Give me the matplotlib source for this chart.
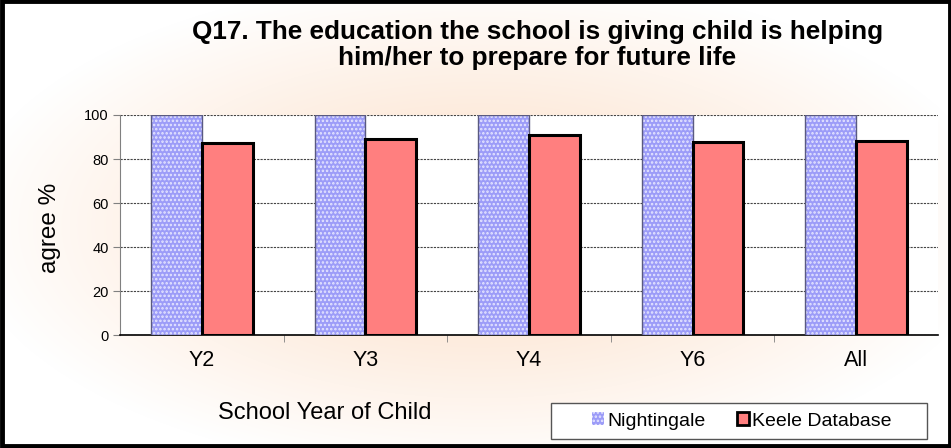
import numpy as np
import matplotlib
matplotlib.use("Agg")
import matplotlib.pyplot as plt
from matplotlib.patches import Rectangle, Patch

categories = ["Y2", "Y3", "Y4", "Y6", "All"]
nightingale = [100, 100, 100, 100, 100]
keele = [87.2, 89.3, 90.8, 87.8, 88.3]
yticks = [0, 20, 40, 60, 80, 100]
title = "Q17. The education the school is giving child is helping\nhim/her to prepare for future life"

plt.rcParams['font.family'] = ['Liberation Sans', 'DejaVu Sans']
plt.rcParams['hatch.linewidth'] = 1.2

W, H = 951, 448
fig = plt.figure(figsize=(W / 100, H / 100), dpi=100)

# background gradient
bg = fig.add_axes([0, 0, 1, 1], zorder=-10)
yy, xx = np.mgrid[0:H, 0:W]
cx, cy = 480, 225
d = np.sqrt(((xx - cx) / 520.0) ** 2 + ((yy - cy) / 250.0) ** 2)
t = np.clip(d, 0, 1) ** 1.1
peach = np.array([252, 222, 198]) / 255.0
white = np.array([1.0, 1.0, 1.0])
img = peach[None, None, :] * (1 - t[..., None]) + white[None, None, :] * t[..., None]
bg.imshow(img, extent=[0, W, H, 0], aspect='auto')
bg.set_xlim(0, W)
bg.set_ylim(H, 0)
bg.axis('off')
bg.add_patch(Rectangle((1.5, 1.5), W - 3, H - 3, fill=False, edgecolor='black', linewidth=3.5))
# legend frame
bg.add_patch(Rectangle((551, 403), 376, 36, facecolor='white', edgecolor='#555555', linewidth=1.0))

ax = fig.add_axes([120 / W, (H - 335) / H, 818 / W, 220 / H])
ax.set_facecolor('white')
x = np.arange(len(categories))
bw = 0.31
ax.bar(x - bw / 2, nightingale, bw, color='#9c9cf8', edgecolor='#e6e6ff', hatch='....', linewidth=0, zorder=3)
ax.bar(x - bw / 2, nightingale, bw, fill=False, edgecolor='#5a5a80', linewidth=1.0, zorder=4)
ax.bar(x + bw / 2, keele, bw, color='#ff7f7f', edgecolor='black', linewidth=2.2, zorder=5)

ax.set_xlim(-0.5, len(categories) - 0.5)
ax.set_ylim(0, 100)
ax.set_yticks(yticks)
ax.set_yticklabels([str(v) for v in yticks], fontsize=10.5)
ax.set_xticks(x)
ax.set_xticklabels(categories, fontsize=15.5)
ax.tick_params(axis='x', length=0, pad=11)
ax.set_xticks(np.arange(0.5, len(categories) - 1, 1.0), minor=True)
ax.tick_params(axis='x', which='minor', length=5, color='#808080', direction='out')
ax.tick_params(axis='y', length=5, color='#808080', direction='out', pad=3)
ax.yaxis.grid(True, linestyle=(0, (2, 1)), color='#444444', linewidth=0.8, zorder=0)
ax.set_axisbelow(True)
for s in ['top', 'right']:
    ax.spines[s].set_visible(False)
ax.spines['left'].set_color('#808080')
ax.spines['bottom'].set_color('black')
ax.spines['bottom'].set_linewidth(1.2)

fig.text(0.565, 0.9, title, ha='center', va='center', fontsize=18.8, fontweight='bold', linespacing=1.08)
fig.text(0.341, 0.078, "School Year of Child", ha='center', va='center', fontsize=17)
fig.text(0.053, 0.491, "agree %", ha='center', va='center', fontsize=17.5, rotation=90)

handles = [Patch(facecolor='#9c9cf8', edgecolor='#e6e6ff', hatch='....', linewidth=0),
           Patch(facecolor='#ff7f7f', edgecolor='black', linewidth=2)]
leg = fig.legend(handles, ["Nightingale", "Keele Database"], loc='center',
                 bbox_to_anchor=(742 / W, 1 - 421 / H), ncol=2, fontsize=14,
                 frameon=False, handlelength=0.6, handleheight=0.6, handletextpad=0.2,
                 columnspacing=1.6)

fig.savefig("out.png", dpi=100)
